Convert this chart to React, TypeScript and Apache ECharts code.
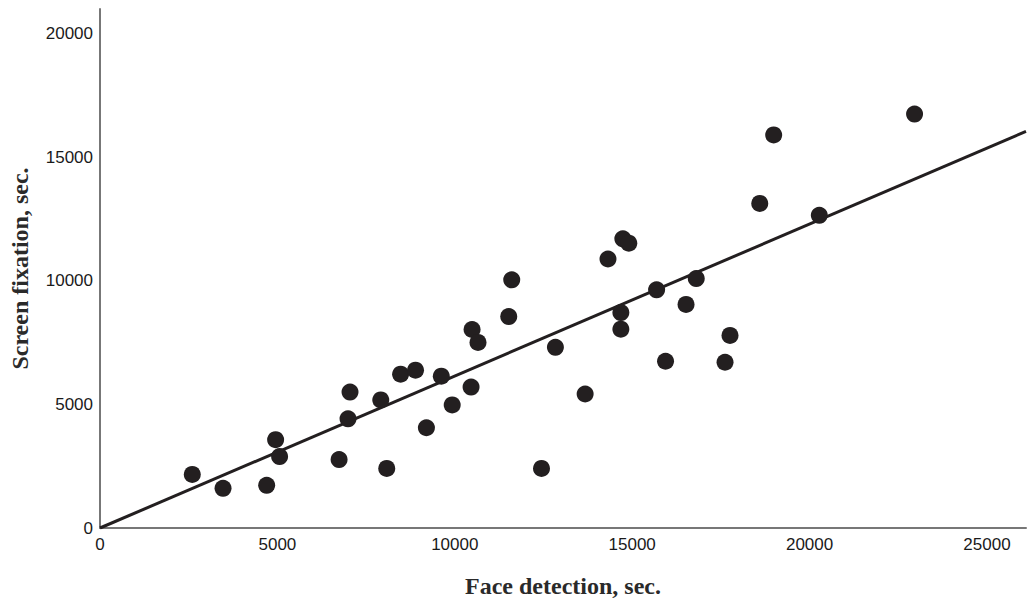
import React, { useEffect, useRef } from "react";
import * as echarts from "echarts";

const faceDetection = [
  2601, 3468, 4698, 4950, 5062, 6739, 6991, 7047, 7914, 8082,
  8473, 8893, 9200, 9620, 9927, 10459, 10487, 10654, 11521, 11605,
  12444, 12836, 13674, 14318, 14681, 14681, 14737, 14905, 15688, 15940,
  16518, 16806, 17617, 17757, 18596, 18988, 20274, 22959,
];
const screenFixation = [
  2169, 1606, 1727, 3574, 2892, 2771, 4418, 5502, 5181, 2410,
  6225, 6386, 4056, 6145, 4980, 5703, 8032, 7510, 8554, 10040,
  2410, 7309, 5422, 10884, 8715, 8044, 11699, 11526, 9639, 6747,
  9048, 10092, 6707, 7791, 13133, 15904, 12651, 16747,
];
const fitLine = [
  [0, 0],
  [26100, 16050],
];
const xTicks = [0, 5000, 10000, 15000, 20000, 25000];
const yTicks = [0, 5000, 10000, 15000, 20000];

export default function App() {
  const ref = useRef<HTMLDivElement>(null);
  useEffect(() => {
    if (!ref.current) return;
    const chart = echarts.init(ref.current, undefined, { renderer: "svg" });
    const points = faceDetection.map((x, i) => [x, screenFixation[i]]);
    const labelStyle = {
      color: "#1a1a1a",
      fontFamily: "Liberation Sans",
      fontSize: 17,
    };
    const nameStyle = {
      fontFamily: "Liberation Serif",
      fontWeight: "bold",
      fontSize: 24,
      color: "#2a2a2a",
    };
    chart.setOption({
      animation: false,
      backgroundColor: "#fff",
      grid: { left: 96, right: 0, top: 9, bottom: 70 },
      xAxis: {
        type: "value",
        min: 0,
        max: 26100,
        interval: 5000,
        name: "Face detection, sec.",
        nameLocation: "middle",
        nameGap: 46,
        nameTextStyle: nameStyle,
        axisLine: { show: true, lineStyle: { color: "#777", width: 2 } },
        axisTick: { show: false },
        splitLine: { show: false },
        axisLabel: {
          ...labelStyle,
          margin: 8,
          formatter: (v: number) => (xTicks.includes(v) ? String(v) : ""),
        },
      },
      yAxis: {
        type: "value",
        min: 0,
        max: 21000,
        interval: 5000,
        name: "Screen fixation, sec.",
        nameLocation: "middle",
        nameGap: 68,
        nameTextStyle: nameStyle,
        axisLine: { show: true, lineStyle: { color: "#777", width: 2 } },
        axisTick: { show: false },
        splitLine: { show: false },
        axisLabel: {
          ...labelStyle,
          margin: 7,
          formatter: (v: number) => (yTicks.includes(v) ? String(v) : ""),
        },
      },
      series: [
        {
          type: "line",
          data: fitLine,
          showSymbol: false,
          symbol: "none",
          lineStyle: { color: "#231f20", width: 3 },
          silent: true,
          z: 2,
        },
        {
          type: "scatter",
          data: points,
          symbolSize: 17,
          itemStyle: { color: "#231f20", opacity: 1 },
          z: 3,
        },
      ],
    });
    return () => chart.dispose();
  }, []);
  return (
    <div
      ref={ref}
      style={{ position: "fixed", left: 0, top: 0, width: 1029, height: 603 }}
    />
  );
}
